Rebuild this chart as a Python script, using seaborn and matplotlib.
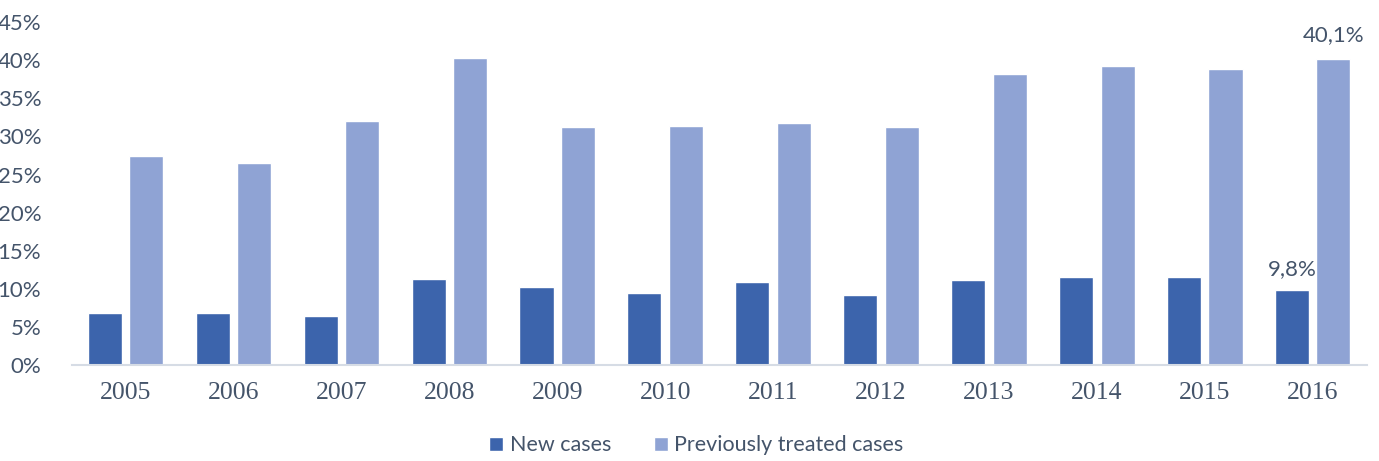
import pandas as pd
import numpy as np
import matplotlib.pyplot as plt
import seaborn as sns
from matplotlib.patches import Patch

sns.set_style("white")
plt.rcParams['font.family'] = ['Lato', 'DejaVu Sans']

years = ['2005', '2006', '2007', '2008', '2009', '2010',
         '2011', '2012', '2013', '2014', '2015', '2016']
new_cases = [6.8, 6.8, 6.4, 11.3, 10.2, 9.5, 10.9, 9.2, 11.2, 11.6, 11.6, 9.8]
prev_treated = [27.5, 26.5, 32.0, 40.3, 31.2, 31.4, 31.8, 31.3, 38.2, 39.3, 38.9, 40.1]
series = ['New cases', 'Previously treated cases']
colors = ['#3C64AC', '#8FA3D4']
text_color = '#44546A'

df = pd.DataFrame({'year': years * 2,
                   'value': new_cases + prev_treated,
                   'series': [series[0]] * len(years) + [series[1]] * len(years)})

fig = plt.figure(figsize=(13.79, 4.61), dpi=100)
ax = fig.add_axes([0.052, 0.208, 0.939, 0.744])

sns.barplot(data=df, x='year', y='value', hue='series', palette=colors,
            width=0.77, gap=0.18, saturation=1, ax=ax, legend=False)

ax.set_ylim(0, 45)
ax.set_xlim(-0.5, len(years) - 0.5)
ax.set_yticks(range(0, 46, 5))
ax.set_yticklabels([f'{v}%' for v in range(0, 46, 5)])
ax.tick_params(axis='y', length=0, pad=22, labelsize=16, labelcolor=text_color)
ax.tick_params(axis='x', length=0, pad=12, labelsize=18.5, labelcolor=text_color)
for lbl in ax.get_xticklabels():
    lbl.set_family('Liberation Serif')
ax.set_xlabel('')
ax.set_ylabel('')
for s in ['top', 'right', 'left']:
    ax.spines[s].set_visible(False)
ax.spines['bottom'].set_color('#D6DCE5')
ax.spines['bottom'].set_linewidth(1.5)

# value labels on the last year
last = len(years) - 1
slot = 0.77 / 2
ax.annotate(f'{new_cases[-1]:.1f}%'.replace('.', ','), (last - slot / 2, new_cases[-1]),
            xytext=(0, 8), textcoords='offset points', ha='center', va='bottom',
            fontsize=16, color=text_color)
ax.annotate(f'{prev_treated[-1]:.1f}%'.replace('.', ','), (last + slot / 2, prev_treated[-1]),
            xytext=(0, 10), textcoords='offset points', ha='center', va='bottom',
            fontsize=16, color=text_color)

handles = [Patch(facecolor=c, label=s) for c, s in zip(colors, series)]
fig.legend(handles=handles, loc='lower center', bbox_to_anchor=(0.505, -0.03), ncol=2,
           frameon=False, fontsize=15.5, labelcolor=text_color,
           handlelength=0.65, handleheight=0.65, handletextpad=0.3, columnspacing=2.0)

fig.savefig('out.png', dpi=100)
